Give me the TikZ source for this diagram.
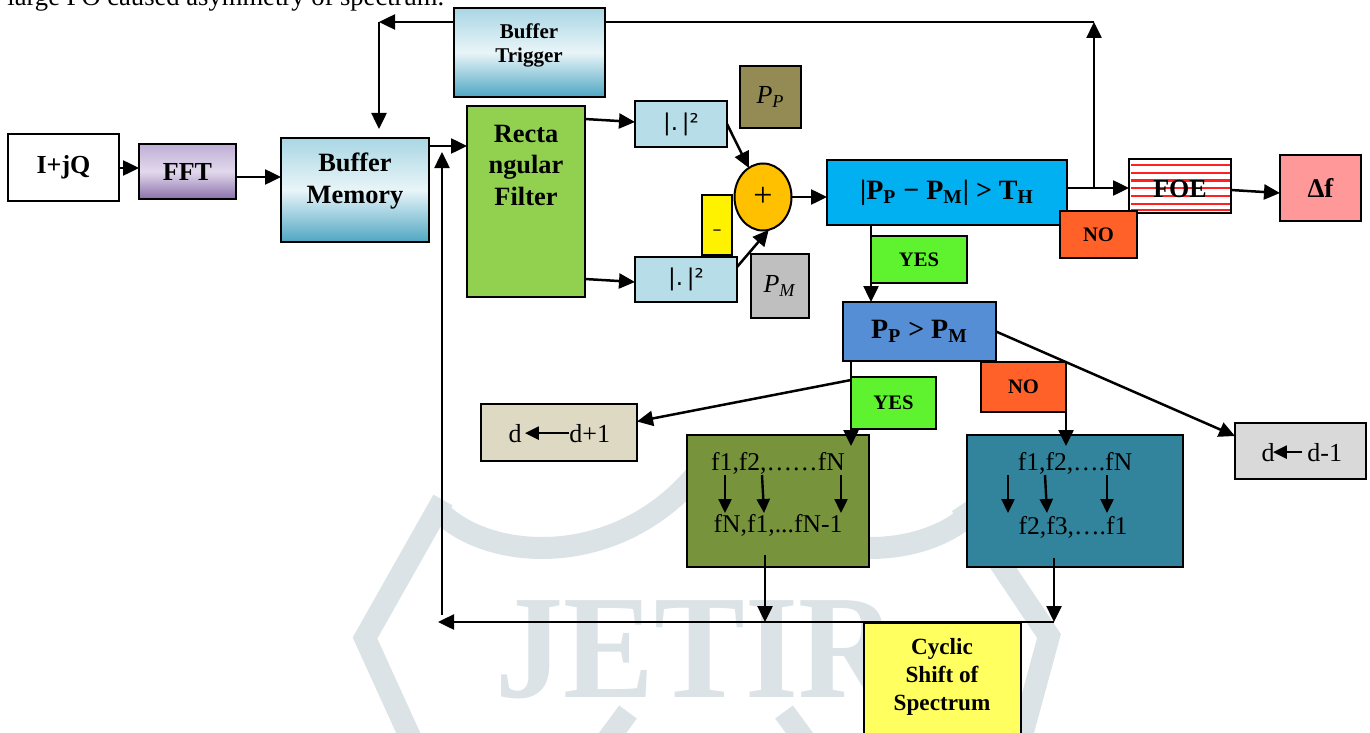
\documentclass[tikz,border=0pt]{standalone}
\usepackage{fontspec}
\setmainfont{Liberation Serif}
\newfontfamily\djv{DejaVu Sans}
\usetikzlibrary{arrows.meta,calc,shapes.geometric}
\definecolor{wm}{HTML}{DCE3E7}
\definecolor{fftT}{HTML}{BFAED6}
\definecolor{fftM}{HTML}{E2D9EC}
\definecolor{fftB}{HTML}{8B6FAB}
\definecolor{bmT}{HTML}{A9D6E4}
\definecolor{bmM}{HTML}{E9F5F8}
\definecolor{bmB}{HTML}{4EA6C3}
\definecolor{rfC}{HTML}{92D050}
\definecolor{sqC}{HTML}{B7DEE8}
\definecolor{ppC}{HTML}{948A54}
\definecolor{pmC}{HTML}{BFBFBF}
\definecolor{circC}{HTML}{FFC000}
\definecolor{condC}{HTML}{00B0F0}
\definecolor{dfC}{HTML}{FF9999}
\definecolor{noC}{HTML}{FF6129}
\definecolor{yesC}{HTML}{5EF22F}
\definecolor{pgmC}{HTML}{558ED5}
\definecolor{dpC}{HTML}{DDD9C3}
\definecolor{gC}{HTML}{77933C}
\definecolor{tC}{HTML}{31849B}
\definecolor{dmC}{HTML}{D9D9D9}
\definecolor{cycC}{HTML}{FFFF5F}
\definecolor{stripeC}{HTML}{FF2020}
\newcommand\bfs[2]{\fontsize{#1}{#2}\selectfont\bfseries}
\newcommand\rms[2]{\fontsize{#1}{#2}\selectfont}
\newcommand\mybox[7]{%
  \pgfmathsetmacro\myCX{(#2+#4)/2}%
  \pgfmathsetmacro\myCY{(#3+#5)/2}%
  \pgfmathsetmacro\myW{(#4-#2)*0.5}%
  \pgfmathsetmacro\myH{(#5-#3)*0.5}%
  \node[box,#6,minimum width=\myW pt,minimum height=\myH pt] (#1) at (\myCX,\myCY) {#7};}
\tikzset{
  box/.style={draw=black,line width=1pt,inner sep=0pt,outer sep=0pt,align=center},
  arr/.style={line width=1.25pt,-{Triangle[length=8pt,width=7.5pt]}},
  arrI/.style={line width=1.2pt,-{Triangle[length=7pt,width=6.5pt]}},
  wmline/.style={draw=wm,line width=11pt},
  txt/.style={inner sep=0pt,align=center}
}
\begin{document}
\begin{tikzpicture}[x=0.5pt,y=-0.5pt]
\useasboundingbox (0,0) rectangle (1370,733);
% watermark
\node[text=wm,font=\fontsize{74}{74}\selectfont\bfseries,xscale=0.92,anchor=base,inner sep=0] (wmtext) at (696,697) {JETIR};
\draw[wmline] (440,512) .. controls (490,562) and (620,570) .. (700,470);
\draw[wmline] (972,512) .. controls (922,562) and (792,570) .. (712,470);
\draw[wmline,line join=miter] (443,500) -- (365,638) -- (416,750);
\draw[wmline,line join=miter] (961,505) -- (1049,636) -- (1018,750);
\draw[wmline] (600,750) -- (628,712);
\draw[wmline] (812,750) -- (784,712);
% cropped text line at the top
\node[anchor=base west,inner sep=0,font=\rms{13.3}{16}] (toptext) at (7,6) {large FO caused asymmetry of spectrum.};
% top feedback loop (behind Buffer Trigger)
\coordinate (j1) at (1094,188);
\coordinate (tr) at (1094,22);
\coordinate (tl) at (379,22);
\draw[arr] (j1) -- (tr);
\draw[arr] (tr) -- (tl);
% boxes
\mybox{ijq}{8}{134}{119}{201}{fill=white,font=\bfs{13}{16}}{I+jQ}
\mybox{fft}{139}{144}{236}{199}{top color=fftT,bottom color=fftB,middle color=fftM,font=\bfs{13}{16}}{FFT}
\mybox{bm}{281}{138}{429}{242}{top color=bmT,bottom color=bmB,middle color=bmM}{}
\node[txt,font=\bfs{13.2}{16}] (bmtext) at (355,181) {Buffer\\Memory};
\mybox{trig}{454}{8}{605}{97}{top color=bmT,bottom color=bmB,middle color=bmM}{}
\node[txt,font=\bfs{10.5}{12}] (trigtext) at (529,45) {Buffer\\Trigger};
\mybox{rf}{467}{106}{585}{297}{fill=rfC}{}
\node[txt,font=\bfs{13.2}{15.75}] (rftext) at (526,165) {Recta\\ngular\\Filter};
\mybox{sq1}{635}{101}{727}{147}{fill=sqC,font=\djv\rms{11.5}{13}}{|.\,|²}
\mybox{sq2}{635}{257}{737}{302}{fill=sqC,font=\djv\rms{11.5}{13}}{|.\,|²}
\mybox{pp}{740}{66}{801}{128}{fill=ppC,font=\rms{13}{15}}{\textit{P}\textsubscript{\textit{P}}}
\mybox{pm}{751}{254}{809}{318}{fill=pmC,font=\rms{13}{15}}{\textit{P}\textsubscript{\textit{M}}}
\mybox{mn}{702}{195}{732}{255}{fill=yellow}{}
\node[txt,font=\djv\rms{9}{10}] (mntext) at (717,233) {–};
\node[ellipse,draw=black,line width=1pt,fill=circC,minimum width=28.5pt,minimum height=33.5pt,inner sep=0pt,outer sep=0pt,font=\rms{17}{17}] (circ) at (763,197) {+};
\mybox{cond}{827}{160}{1067}{225}{fill=condC,font=\bfs{14}{16}}{|P\textsubscript{P} − P\textsubscript{M}| > T\textsubscript{H}}
\mybox{foe}{1129}{159}{1231}{213}{fill=white}{}
\foreach \yy in {165,172.7,180.5,188.3,196.3,204.2,210.3}
  \draw[stripeC,line width=1.1pt] (1130.5,\yy) -- (1229.5,\yy);
\node[txt,font=\bfs{13}{16}] (foetext) at (1180,189) {FOE};
\mybox{df}{1280}{155}{1361}{221}{fill=dfC,font=\bfs{13.5}{16}}{Δf}
\mybox{no1}{1060}{211}{1137}{258}{fill=noC,font=\bfs{10.3}{12}}{NO}
\mybox{yes1}{871}{236}{967}{283}{fill=yesC,font=\bfs{10.3}{12}}{YES}
\mybox{pgm}{843}{302}{996}{361}{fill=pgmC,font=\bfs{14}{16}}{P\textsubscript{P} > P\textsubscript{M}}
\mybox{yes2}{851}{377}{936}{429}{fill=yesC,font=\bfs{10.3}{12}}{YES}
\mybox{no2}{981}{362}{1066}{412}{fill=noC,font=\bfs{10.3}{12}}{NO}
\mybox{dp}{481}{404}{637}{461}{fill=dpC}{}
\node[anchor=base,inner sep=0pt,font=\rms{13}{15}] (dpa) at (515,442) {d};
\node[anchor=base west,inner sep=0pt,font=\rms{13}{15}] (dpb) at (569,442) {d+1};
\draw[arrI] (dpb.west) -- ($(dpa.east)+(3,0)$);
\mybox{gbox}{687}{435}{869}{567}{fill=gC}{}
\node[txt,font=\rms{12.8}{15}] (g1) at (778,463) {f1,f2,……fN};
\node[txt,font=\rms{12.8}{15}] (g2) at (778,525) {fN,f1,...fN-1};
\draw[arrI] (725,475) -- (725,513);
\draw[arrI] (762,475) -- (764,513);
\draw[arrI] (841,475) -- (841,513);
\mybox{tbox}{967}{435}{1183}{567}{fill=tC}{}
\node[txt,font=\rms{12.8}{15}] (t1) at (1075,463) {f1,f2,….fN};
\node[txt,font=\rms{12.8}{15}] (t2) at (1073,527) {f2,f3,….f1};
\draw[arrI] (1008,475) -- (1008,513);
\draw[arrI] (1045,475) -- (1047,513);
\draw[arrI] (1107,475) -- (1107,513);
\mybox{dm}{1235}{423}{1366}{479}{fill=dmC}{}
\node[anchor=base,inner sep=0pt,font=\rms{13}{15}] (dma) at (1268,461) {d};
\node[anchor=base west,inner sep=0pt,font=\rms{13}{15}] (dmb) at (1307,461) {d-1};
\draw[arrI] ($(dmb.west)+(-5,0)$) -- ($(dma.east)+(-2,0)$);
\mybox{cyc}{864}{623}{1021}{745}{fill=cycC}{}
\node[txt,font=\bfs{11.6}{14}] (cyctext) at (942,677) {Cyclic\\Shift of\\Spectrum};
% connectors
\coordinate (lb) at (442,615);
\coordinate (lt) at (442,152);
\coordinate (bg) at (765,622);
\coordinate (bt) at (1054,622);
\coordinate (bl) at (438,622);
\draw[arr] (ijq.east |- 0,168) -- (fft.west |- 0,168);
\draw[arr] (fft.east |- 0,177) -- (bm.west |- 0,177);
\draw[arr] (bm.east |- 0,146) -- (rf.west |- 0,146);
\draw[arr] (tl) -- ($(bm.north -| tl)+(0,-9)$);
\draw[arr] (lb) -- (lt);
\draw[arr] (bt) -- (bl);
\draw[arr] ($(gbox.south -| bg)+(0,-12)$) -- (bg);
\draw[arr] ($(tbox.south -| bt)+(0,-9)$) -- (bt);
\draw[arr] (rf.east |- 0,119) -- (sq1.west |- 0,122);
\draw[arr] (rf.east |- 0,279) -- (sq2.west |- 0,282);
\draw[arr] (sq1.east) -- (circ.116);
\draw[arr] ($(sq2.north east)+(0,10)$) -- (circ.-80);
\draw[arr] (circ.east) -- (circ.east -| cond.west);
\draw[arr] (cond.east |- 0,188) -- (foe.west |- 0,188);
\draw[arr] (foe.east |- 0,190) -- (df.west |- 0,193);
\draw[arr] (cond.south -| yes1.west) -- (pgm.north -| yes1.west);
\draw[arr] (pgm.south -| yes2.west) -- ($(gbox.north -| yes2.west)+(0,11)$);
\draw[arr] ($(pgm.south -| yes2.west)+(0,19)$) -- ($(dp.east)+(0,-11)$);
\draw[arr] (pgm.east) -- ($(dm.north west)+(0,13)$);
\draw[arr] (no2.north east) -- ($(tbox.north -| no2.east)+(0,11)$);
\end{tikzpicture}
\end{document}
